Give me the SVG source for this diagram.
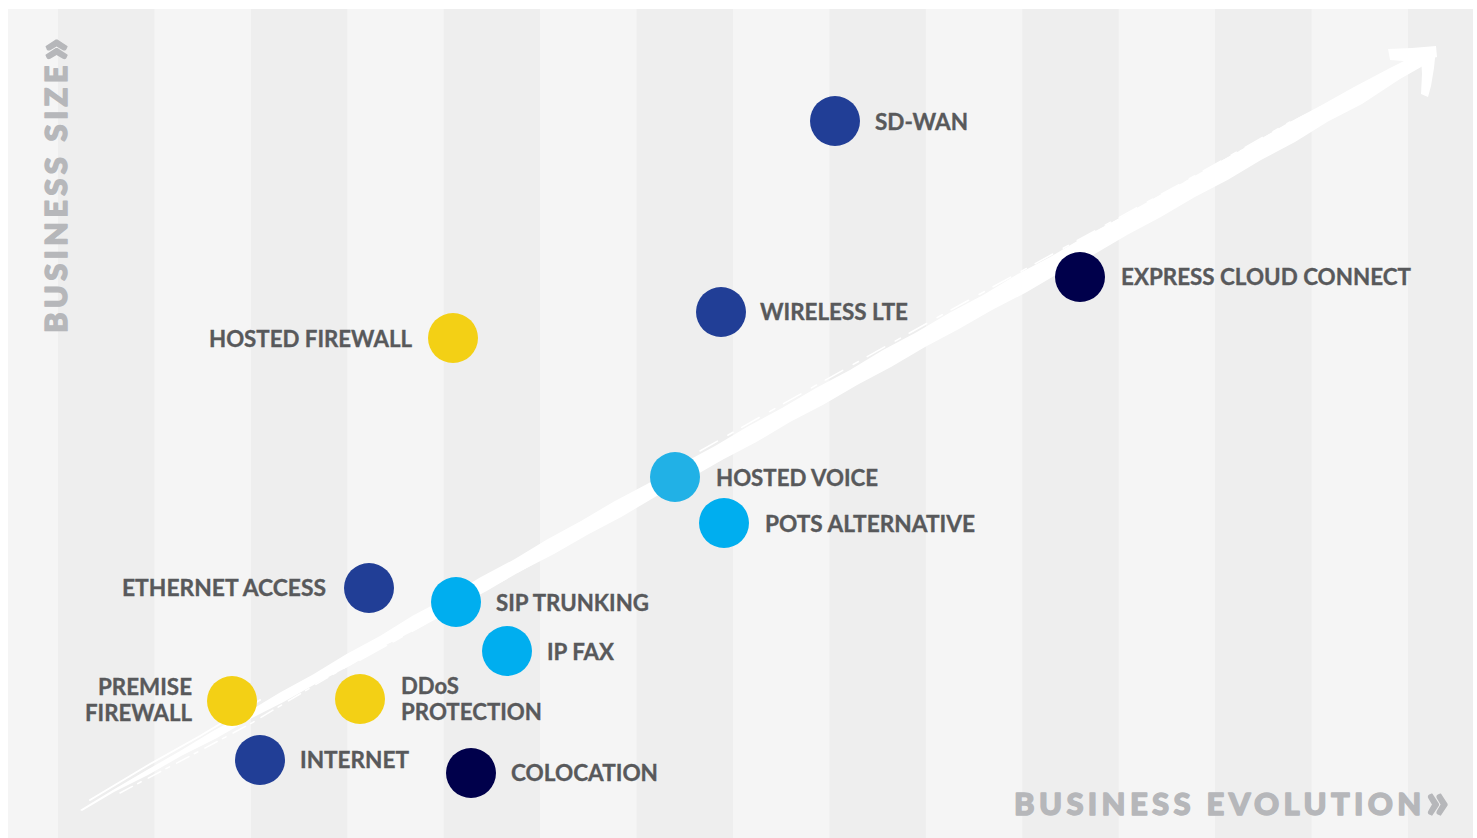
<svg xmlns="http://www.w3.org/2000/svg" width="1477" height="838" viewBox="0 0 1477 838">
<style>
.lbl{font-family:Lato,"Liberation Sans","DejaVu Sans",sans-serif;font-weight:700;font-size:23px;fill:#58595b;stroke:#58595b;stroke-width:0.35}
.axis{font-family:Lato,"Liberation Sans","DejaVu Sans",sans-serif;font-weight:900;font-size:31px;fill:#b6b7ba;stroke:#b6b7ba;stroke-width:1.4;stroke-linejoin:round}
.chev{font-size:50px;font-weight:900}
.stripe{fill:#eeeeee}
.blue{fill:#213e96}
.navy{fill:#00004b}
.yellow{fill:#f3d015}
.cyan{fill:#00aeef}
.sky{fill:#21b1e6}
.brush{fill:#ffffff}
.scratch{fill:none;stroke:#ffffff;stroke-linecap:round}
</style>
<rect x="0" y="0" width="1477" height="838" fill="#ffffff"/>
<g id="background">
<rect x="8" y="9" width="1465" height="829" fill="#f5f5f5"/>
<rect class="stripe" x="58" y="9" width="96.4" height="829"/>
<rect class="stripe" x="250.9" y="9" width="96.4" height="829"/>
<rect class="stripe" x="443.7" y="9" width="96.4" height="829"/>
<rect class="stripe" x="636.6" y="9" width="96.4" height="829"/>
<rect class="stripe" x="829.4" y="9" width="96.4" height="829"/>
<rect class="stripe" x="1022.3" y="9" width="96.4" height="829"/>
<rect class="stripe" x="1215.1" y="9" width="96.4" height="829"/>
<rect class="stripe" x="1408" y="9" width="65" height="829"/>
</g>
<g id="trend-arrow">
<polygon class="brush" points="80,810 112,790.5 146,770.5 180,751 213,731 247,712.5 280,692.5 313,674.5 346.6,654 380,636 413,615.5 447,597.5 480,577.5 514,559.5 547,539.5 581,521 614,501.5 648,483.5 681.6,464 715,446 748.6,426 782,408 816,388 850,370 883,350 916,332.5 950,312.5 984,294.5 1017,274.5 1051,256.5 1084,237 1118,219 1151.6,199.5 1185,181.5 1219,162 1252,144 1286,124 1320,106 1354,87 1390,68 1418,54 1426,55 1430,62 1400,79 1362,104 1328,121.5 1295,142 1261,160 1228,179.7 1194,197.5 1160.4,217.3 1127,235 1093,255 1060,272.5 1026,292.5 992,310 958,329.6 925,347 891,367 858,384.5 823.7,404.4 790,422 756.4,442 723,459.5 689,479 655,497 621.7,516.7 588,534.5 554,554 520,571.5 486.7,591 453,608.5 419,628 385,645.5 351.4,665 318,682.5 284,701.7 250,719 216,738.4 182,755.5 148,775 114,792 82,811"/>
<polyline class="scratch" stroke-width="2" points="90,800 150,764 200,736 260,700"/>
<polyline class="scratch" stroke-width="1.5" stroke-dasharray="14 6 4 8" points="120,793 190,756 250,724 330,676 400,636"/>
<polyline class="scratch" stroke-width="2" stroke-dasharray="30 8 10 12" points="360,660 450,610 560,548 650,496"/>
<polyline class="scratch" stroke-width="2.5" stroke-dasharray="40 10 18 14" points="640,500 760,430 880,362 1000,296 1120,230"/>
<polyline class="scratch" stroke-width="2" stroke-dasharray="26 9 12 16" points="1100,230 1200,174 1300,118 1380,76"/>
<polyline class="scratch" stroke-width="1.5" stroke-dasharray="20 12 6 10" points="700,451 820,383 940,316 1060,250 1180,184 1290,122"/>
<polygon class="brush" points="1388,49 1412,48 1436,46 1437,57 1422,61 1403,61 1390,60"/>
<polygon class="brush" points="1421,56 1436,48 1434,68 1431,86 1428,97 1421,94 1422,74"/>
</g>
<g id="axis-y">
<text class="axis" transform="translate(67,333) rotate(-90)" x="0" y="0" textLength="295">BUSINESS SIZE<tspan class="chev" dy="3">»</tspan></text>
</g>
<g id="axis-x">
<text class="axis" x="1014" y="815" textLength="435">BUSINESS EVOLUTION<tspan class="chev" dy="3">»</tspan></text>
</g>
<g id="sd-wan"><circle class="blue" cx="835" cy="121" r="25"/><text class="lbl" x="875" y="130" textLength="93" lengthAdjust="spacingAndGlyphs">SD-WAN</text></g>
<g id="express-cloud-connect"><circle class="navy" cx="1080" cy="277" r="25"/><text class="lbl" x="1121" y="285" textLength="290" lengthAdjust="spacingAndGlyphs">EXPRESS CLOUD CONNECT</text></g>
<g id="wireless-lte"><circle class="blue" cx="721" cy="312" r="25"/><text class="lbl" x="760" y="320" textLength="148" lengthAdjust="spacingAndGlyphs">WIRELESS LTE</text></g>
<g id="hosted-firewall"><circle class="yellow" cx="453" cy="338" r="25"/><text class="lbl" x="209" y="347" textLength="203" lengthAdjust="spacingAndGlyphs">HOSTED FIREWALL</text></g>
<g id="hosted-voice"><circle class="sky" cx="675" cy="477" r="25"/><text class="lbl" x="716" y="486" textLength="162" lengthAdjust="spacingAndGlyphs">HOSTED VOICE</text></g>
<g id="pots-alternative"><circle class="cyan" cx="724" cy="523" r="25"/><text class="lbl" x="765" y="532" textLength="210" lengthAdjust="spacingAndGlyphs">POTS ALTERNATIVE</text></g>
<g id="ethernet-access"><circle class="blue" cx="369" cy="588" r="25"/><text class="lbl" x="122" y="596" textLength="204" lengthAdjust="spacingAndGlyphs">ETHERNET ACCESS</text></g>
<g id="sip-trunking"><circle class="cyan" cx="456" cy="602" r="25"/><text class="lbl" x="496" y="611" textLength="153" lengthAdjust="spacingAndGlyphs">SIP TRUNKING</text></g>
<g id="ip-fax"><circle class="cyan" cx="507" cy="651" r="25"/><text class="lbl" x="547" y="660" textLength="67" lengthAdjust="spacingAndGlyphs">IP FAX</text></g>
<g id="premise-firewall"><circle class="yellow" cx="232" cy="701" r="25"/><text class="lbl" x="98" y="695" textLength="94" lengthAdjust="spacingAndGlyphs">PREMISE</text><text class="lbl" x="85" y="721" textLength="107" lengthAdjust="spacingAndGlyphs">FIREWALL</text></g>
<g id="ddos-protection"><circle class="yellow" cx="360" cy="699" r="25"/><text class="lbl" x="401" y="694" textLength="58" lengthAdjust="spacingAndGlyphs">DDoS</text><text class="lbl" x="401" y="720" textLength="141" lengthAdjust="spacingAndGlyphs">PROTECTION</text></g>
<g id="internet"><circle class="blue" cx="260" cy="760" r="25"/><text class="lbl" x="300" y="768" textLength="109" lengthAdjust="spacingAndGlyphs">INTERNET</text></g>
<g id="colocation"><circle class="navy" cx="471" cy="773" r="25"/><text class="lbl" x="511" y="781" textLength="147" lengthAdjust="spacingAndGlyphs">COLOCATION</text></g>
</svg>
